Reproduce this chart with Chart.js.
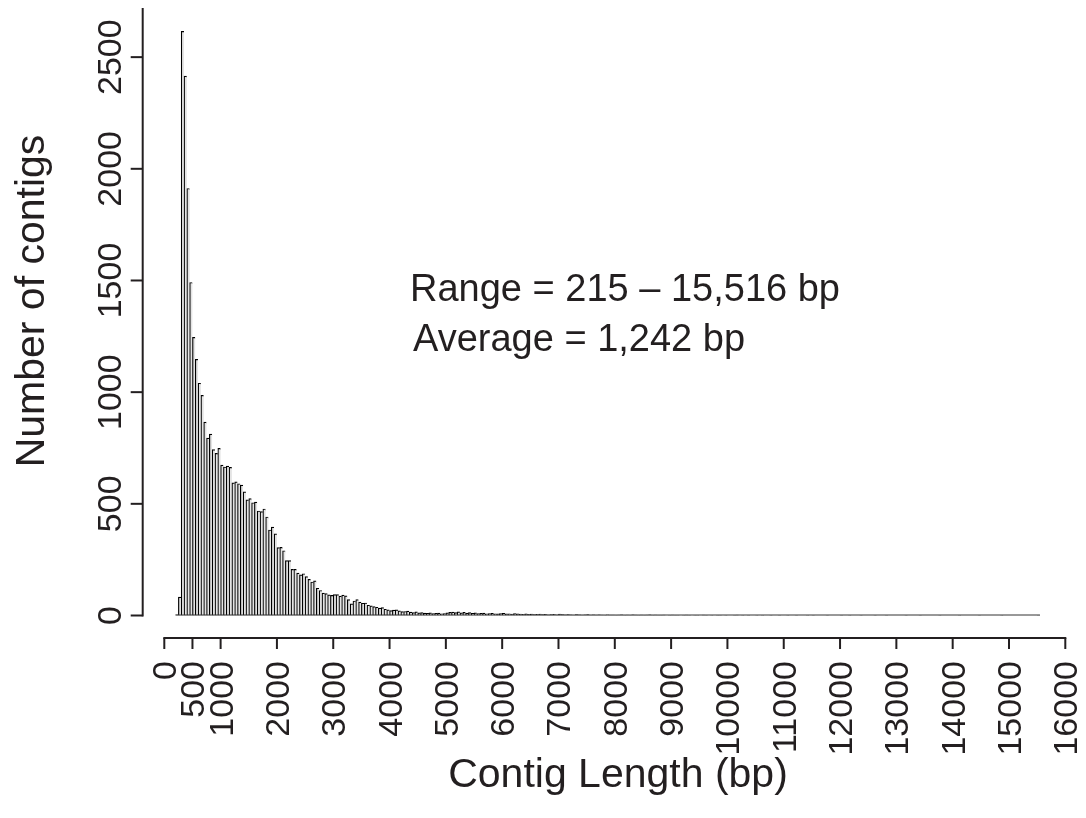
<!DOCTYPE html>
<html>
<head>
<meta charset="utf-8">
<script src="https://cdn.jsdelivr.net/npm/chart.js@4.4.1/dist/chart.umd.min.js"></script>
<style>
  html, body { margin: 0; padding: 0; background: #ffffff; }
  #wrap { width: 1086px; height: 818px; }
</style>
</head>
<body>
<div id="wrap"><canvas id="c" width="1086" height="818"></canvas></div>
<script>
// ---- data ----
// histogram bins: 50 bp wide, first bin starts at 200 bp
const binStart = 200;
const binWidth = 50;
const counts = [
  3, 82, 2615, 2415, 1912, 1491, 1245, 1147, 1040, 986,
  866, 794, 812, 743, 726, 748, 673, 665, 669, 663,
  594, 598, 590, 584, 554, 518, 523, 505, 508, 468,
  465, 477, 441, 383, 396, 366, 304, 305, 290, 246,
  246, 207, 207, 190, 182, 187, 174, 162, 150, 155,
  122, 112, 100, 98, 92, 90, 94, 94, 87, 91,
  88, 71, 52, 65, 71, 60, 55, 56, 46, 43,
  40, 37, 33, 35, 28, 25, 22, 24, 25, 21,
  17, 18, 20, 15, 13, 16, 12, 13, 11, 10,
  12, 9, 10, 11, 8, 9, 12, 14, 15, 13,
  16, 12, 14, 11, 13, 10, 12, 9, 10, 11,
  8, 9, 10, 8, 7, 9, 10, 7, 8, 6,
  9, 7, 6, 5, 7, 5, 6, 4, 5, 6,
  4, 5, 3, 4, 5, 3, 6, 4, 3, 4,
  3, 2, 4, 3, 2, 3, 4, 2, 3, 2,
  3, 2, 1, 3, 2, 2, 1, 2, 3, 1,
  2, 1, 3, 2, 1, 2, 1, 2, 3, 1,
  2, 1, 1, 2, 0, 1, 2, 1, 1, 0,
  1, 2, 1, 0, 1, 1, 0, 2, 1, 0,
  1, 0, 1, 1, 0, 1, 0, 0, 1, 2,
  0, 1, 0, 1, 0, 0, 1, 0, 1, 0,
  0, 1, 0, 0, 1, 0, 0, 1, 0, 0,
  1, 0, 0, 0, 1, 0, 1, 0, 0, 0,
  0, 1, 0, 0, 0, 0, 1, 0, 0, 1,
  0, 0, 0, 1, 0, 0, 0, 0, 1, 0,
  0, 0, 1, 0, 0, 0, 0, 0, 0, 1,
  0, 0, 0, 0, 1, 0, 0, 0, 0, 0,
  0, 1, 0, 0, 0, 0, 0, 0, 1, 0,
  0, 0, 0, 0, 0, 1, 0, 0, 0, 0,
  0, 0, 0, 1, 0, 0, 0, 0, 0, 0,
  0, 0, 0, 0, 0, 0, 1
];
const xTicks = [0, 500, 1000, 2000, 3000, 4000, 5000, 6000, 7000, 8000,
                9000, 10000, 11000, 12000, 13000, 14000, 15000, 16000];
const yTicks = [0, 500, 1000, 1500, 2000, 2500];
const xTitle = 'Contig Length (bp)';
const yTitle = 'Number of contigs';
const notes = ['Range = 215 \u2013 15,516 bp', 'Average = 1,242 bp'];

// ---- styling ----
const INK = '#231f20';
const FONT = "'Liberation Sans', Arial, Helvetica, sans-serif";

const rAxes = {
  id: 'rAxes',
  afterDraw(chart) {
    const { ctx, chartArea, scales: { x, y } } = chart;
    ctx.save();
    ctx.strokeStyle = INK;
    ctx.fillStyle = INK;

    // histogram baseline (zero-height bins drawn as a line, like R)
    const y0 = y.getPixelForValue(0);
    ctx.lineWidth = 1;
    ctx.strokeStyle = '#333';
    ctx.beginPath();
    ctx.moveTo(x.getPixelForValue(binStart), y0 - 0.5);
    ctx.lineTo(x.getPixelForValue(binStart + counts.length * binWidth), y0 - 0.5);
    ctx.stroke();
    ctx.strokeStyle = INK;

    // y axis (detached, left)
    const yAxisX = chartArea.left - 21.6;
    ctx.lineWidth = 2;
    ctx.beginPath();
    ctx.moveTo(yAxisX, y0 + 1);
    ctx.lineTo(yAxisX, chartArea.top);
    ctx.stroke();
    ctx.font = '34px ' + FONT;
    for (const t of yTicks) {
      const py = y.getPixelForValue(t);
      ctx.beginPath();
      ctx.moveTo(yAxisX, py);
      ctx.lineTo(yAxisX - 12, py);
      ctx.stroke();
      ctx.save();
      ctx.translate(yAxisX - 22, py);
      ctx.rotate(-Math.PI / 2);
      ctx.textAlign = 'center';
      ctx.textBaseline = 'alphabetic';
      ctx.fillText(String(t), 0, 0);
      ctx.restore();
    }

    // x axis (detached, bottom)
    const xAxisY = chartArea.bottom + 22.5;
    ctx.beginPath();
    ctx.moveTo(x.getPixelForValue(xTicks[0]) - 1, xAxisY);
    ctx.lineTo(x.getPixelForValue(xTicks[xTicks.length - 1]) + 1, xAxisY);
    ctx.stroke();
    for (const t of xTicks) {
      const px = x.getPixelForValue(t);
      ctx.beginPath();
      ctx.moveTo(px, xAxisY);
      ctx.lineTo(px, xAxisY + 11);
      ctx.stroke();
      ctx.save();
      ctx.translate(px + 12, xAxisY + 23);
      ctx.rotate(-Math.PI / 2);
      ctx.textAlign = 'right';
      ctx.textBaseline = 'alphabetic';
      ctx.fillText(String(t), 0, 0);
      ctx.restore();
    }

    // axis titles
    ctx.font = '41px ' + FONT;
    ctx.textAlign = 'center';
    ctx.textBaseline = 'alphabetic';
    ctx.fillText(xTitle, 618, 787);
    ctx.save();
    ctx.translate(44, 301);
    ctx.rotate(-Math.PI / 2);
    ctx.fillText(yTitle, 0, 0);
    ctx.restore();

    // annotations
    ctx.font = '38px ' + FONT;
    ctx.textAlign = 'left';
    ctx.fillText(notes[0], 410, 301);
    ctx.fillText(notes[1], 413, 351);
    ctx.restore();
  }
};

new Chart(document.getElementById('c'), {
  type: 'bar',
  data: {
    datasets: [{
      data: counts.map((c, i) => ({ x: binStart + binWidth * (i + 0.5), y: c })),
      backgroundColor: '#e4e4e4',
      borderColor: '#000000',
      borderWidth: { left: 1.2, top: 1.2, right: 0, bottom: 0 },
      borderSkipped: false,
      barPercentage: 1,
      categoryPercentage: 1
    }]
  },
  options: {
    responsive: false,
    animation: false,
    devicePixelRatio: 1,
    layout: { padding: { left: 164.3, right: 20.7, top: 8, bottom: 202.5 } },
    plugins: { legend: { display: false }, tooltip: { enabled: false } },
    scales: {
      x: { type: 'linear', min: 0, max: 16000, offset: false, display: false },
      y: { type: 'linear', min: 0, max: 2720, display: false }
    }
  },
  plugins: [rAxes]
});
</script>
</body>
</html>
